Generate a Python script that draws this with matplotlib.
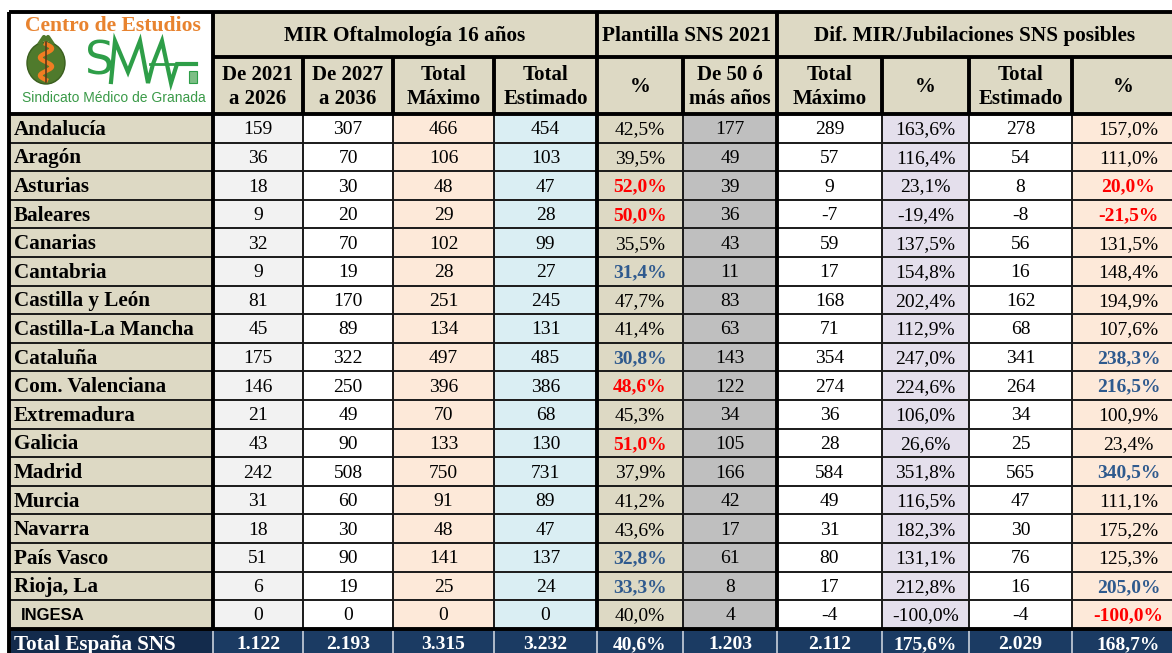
import matplotlib.pyplot as plt
from matplotlib.patches import Rectangle, Ellipse
import numpy as np

regiones = ["Andalucía", "Aragón", "Asturias", "Baleares", "Canarias", "Cantabria",
            "Castilla y León", "Castilla-La Mancha", "Cataluña", "Com. Valenciana",
            "Extremadura", "Galicia", "Madrid", "Murcia", "Navarra", "País Vasco",
            "Rioja, La", "INGESA"]
mir_2021_2026 = [159, 36, 18, 9, 32, 9, 81, 45, 175, 146, 21, 43, 242, 31, 18, 51, 6, 0]
mir_2027_2036 = [307, 70, 30, 20, 70, 19, 170, 89, 322, 250, 49, 90, 508, 60, 30, 90, 19, 0]
total_maximo = [466, 106, 48, 29, 102, 28, 251, 134, 497, 396, 70, 133, 750, 91, 48, 141, 25, 0]
total_estimado = [454, 103, 47, 28, 99, 27, 245, 131, 485, 386, 68, 130, 731, 89, 47, 137, 24, 0]
pct_mayores = [42.5, 39.5, 52.0, 50.0, 35.5, 31.4, 47.7, 41.4, 30.8, 48.6, 45.3, 51.0,
               37.9, 41.2, 43.6, 32.8, 33.3, 40.0]
mayores_50 = [177, 49, 39, 36, 43, 11, 83, 63, 143, 122, 34, 105, 166, 42, 17, 61, 8, 4]
dif_maximo = [289, 57, 9, -7, 59, 17, 168, 71, 354, 274, 36, 28, 584, 49, 31, 80, 17, -4]
dif_maximo_pct = [163.6, 116.4, 23.1, -19.4, 137.5, 154.8, 202.4, 112.9, 247.0, 224.6,
                  106.0, 26.6, 351.8, 116.5, 182.3, 131.1, 212.8, -100.0]
dif_estimado = [278, 54, 8, -8, 56, 16, 162, 68, 341, 264, 34, 25, 565, 47, 30, 76, 16, -4]
dif_estimado_pct = [157.0, 111.0, 20.0, -21.5, 131.5, 148.4, 194.9, 107.6, 238.3, 216.5,
                    100.9, 23.4, 340.5, 111.1, 175.2, 125.3, 205.0, -100.0]

total_label = "Total España SNS"
total_row = [1122, 2193, 3315, 3232, 40.6, 1203, 2112, 175.6, 2029, 168.7]

grupos = ["MIR Oftalmología 16 años", "Plantilla SNS 2021", "Dif. MIR/Jubilaciones SNS posibles"]
subcabeceras = ["De 2021\na 2026", "De 2027\na 2036", "Total\nMáximo", "Total\nEstimado",
                "%", "De 50 ó\nmás años", "Total\nMáximo", "%", "Total\nEstimado", "%"]


def fmt_int(v):
    return f"{v:,}".replace(",", ".")


def fmt_pct(v):
    return f"{v:.1f}".replace(".", ",") + "%"


# layout (pixels)
W, H = 1172, 653
xs = [9, 213, 303, 393, 494, 597, 683, 777, 882, 969, 1072, 1185]
y_top, y_h1, y_h2 = 12, 57, 114
row_h = 28.6
ys = [y_h2 + i * row_h for i in range(len(regiones) + 1)]
y_tot = ys[-1]

TAN = "#DDD9C4"
col_bg = ["#F2F2F2", "white", "#FDE9D9", "#DAEEF3", TAN, "#BFBFBF",
          "white", "#E4DFEC", "white", "#FDE9D9"]
NAVY = "#1B3B63"
NAVY_DARK = "#132B4C"
RED = "#FF0000"
BLUE = "#2F5A8E"
SERIF = "Liberation Serif"
DY = 1.5  # text baseline nudge

fig = plt.figure(figsize=(W / 100, H / 100), dpi=100)
ax = fig.add_axes([0, 0, 1, 1])
ax.set_xlim(0, W)
ax.set_ylim(H, 0)
ax.axis("off")


def cell(x0, y0, x1, y1, fc):
    ax.add_patch(Rectangle((x0, y0), x1 - x0, y1 - y0, facecolor=fc, edgecolor="none", zorder=1))


# header backgrounds
cell(xs[0], y_top, xs[1], y_h2, "white")
cell(xs[1], y_top, xs[-1], y_h2, TAN)

# data cells
columns = [mir_2021_2026, mir_2027_2036, total_maximo, total_estimado, pct_mayores,
           mayores_50, dif_maximo, dif_maximo_pct, dif_estimado, dif_estimado_pct]
pct_cols = {4, 7, 9}
for r, name in enumerate(regiones):
    y0, y1 = ys[r], ys[r + 1]
    yc = (y0 + y1) / 2 + DY
    cell(xs[0], y0, xs[1], y1, TAN)
    if name == "INGESA":
        ax.text(xs[0] + 12, yc, name, family="Liberation Sans", weight="bold",
                fontsize=12, va="center", ha="left", color="black", zorder=3)
    else:
        ax.text(xs[0] + 5, yc, name, family=SERIF, weight="bold",
                fontsize=15.2, va="center", ha="left", color="black", zorder=3)
    for c, vals in enumerate(columns):
        cell(xs[c + 1], y0, xs[c + 2], y1, col_bg[c])
        v = vals[r]
        color, weight = "black", "normal"
        if c == 4:
            if v >= 48:
                color, weight = RED, "bold"
            elif v <= 34:
                color, weight = BLUE, "bold"
        if c == 9:
            if v <= 20:
                color, weight = RED, "bold"
            elif v >= 200:
                color, weight = BLUE, "bold"
        txt = fmt_pct(v) if c in pct_cols else fmt_int(v)
        ax.text((xs[c + 1] + xs[c + 2]) / 2, yc, txt, family=SERIF, weight=weight,
                fontsize=14, va="center", ha="center", color=color, zorder=3)

# total row
cell(xs[0], y_tot, xs[1], H + 10, NAVY_DARK)
cell(xs[1], y_tot, xs[-1], H + 10, NAVY)
yc = y_tot + row_h / 2 + DY
ax.text(xs[0] + 5, yc, total_label, family=SERIF, weight="bold", fontsize=15.2,
        va="center", ha="left", color="white", zorder=3)
for c, v in enumerate(total_row):
    txt = fmt_pct(v) if c in pct_cols else fmt_int(v)
    ax.text((xs[c + 1] + xs[c + 2]) / 2, yc, txt, family=SERIF, weight="bold",
            fontsize=14, va="center", ha="center", color="white", zorder=3)
for x in xs[1:-1]:
    ax.plot([x, x], [y_tot + 2, H + 10], color="#C9D1DC", lw=1.2, zorder=2)

# header texts
spans = [(1, 5), (5, 7), (7, 11)]
for (a, b), g in zip(spans, grupos):
    ax.text((xs[a] + min(xs[b], W)) / 2, (y_top + y_h1) / 2 + DY, g, family=SERIF,
            weight="bold", fontsize=15.3, ha="center", va="center", color="black", zorder=3)
for c, s in enumerate(subcabeceras):
    ax.text((xs[c + 1] + min(xs[c + 2], W + 3)) / 2, (y_h1 + y_h2) / 2 + DY, s, family=SERIF,
            weight="bold", fontsize=15, ha="center", va="center", linespacing=1.25,
            color="black", zorder=3)

# grid lines
thin = dict(color="#1A1A1A", lw=1.4, zorder=4, solid_capstyle="butt")
thick = dict(color="black", lw=2.8, zorder=5, solid_capstyle="butt")
for y in ys[1:-1]:
    ax.plot([xs[0], xs[-1]], [y, y], **thin)
ax.plot([xs[1], xs[-1]], [y_h1, y_h1], **thick)
for y in (y_top, y_h2, y_tot):
    ax.plot([xs[0], xs[-1]], [y, y], **thick)
for i, x in enumerate(xs[:-1]):
    if i in (0, 1, 5, 7):
        ax.plot([x, x], [y_top, y_tot], **thick)
    else:
        ax.plot([x, x], [y_h1, y_h2], **thick)
        ax.plot([x, x], [y_h2, y_tot], **thin)
ax.plot([xs[0], xs[0]], [y_tot, H + 10], **thick)

# logo
ax.text(113, 26, "Centro de Estudios", family=SERIF, weight="bold", fontsize=15.6,
        color="#E8832F", ha="center", va="center", zorder=3)
ax.text(114, 98, "Sindicato Médico de Granada", family="Liberation Sans", fontsize=10,
        color="#3A9A48", ha="center", va="center", zorder=3)
ax.add_patch(Ellipse((46, 63), 38, 42, facecolor="#4F7A2C", edgecolor="#3A5E1E", lw=1, zorder=3))
ax.plot([40, 44, 46, 48, 52], [43, 37, 41, 37, 43], color="#4F7A2C", lw=3, zorder=3)
t = np.linspace(0, 1, 60)
ax.plot(46 + 6 * np.sin(t * 4 * np.pi), 44 + 36 * t, color="#F07D22", lw=3.2, zorder=4)
ax.plot([46, 46], [42, 82], color="#5A3A1A", lw=1.2, zorder=4)
ax.text(99, 62, "S", family="DejaVu Sans", fontsize=33, color="#2E9E48",
        ha="center", va="center", zorder=3)
ecg_x = [111, 115, 128, 140, 148, 153, 162, 171, 177, 196]
ecg_y = [82, 41, 72, 41, 83, 64, 41, 83, 64, 64]
ax.plot(ecg_x, ecg_y, color="#2E9E48", lw=3, zorder=3, solid_joinstyle="miter")
ax.plot([150, 196], [64, 64], color="#2E9E48", lw=2, zorder=3)
ax.add_patch(Rectangle((189, 71), 8, 12, facecolor="#7DBE85", edgecolor="#2E9E48", lw=0.8, zorder=3))

fig.savefig("out.png", dpi=100)
